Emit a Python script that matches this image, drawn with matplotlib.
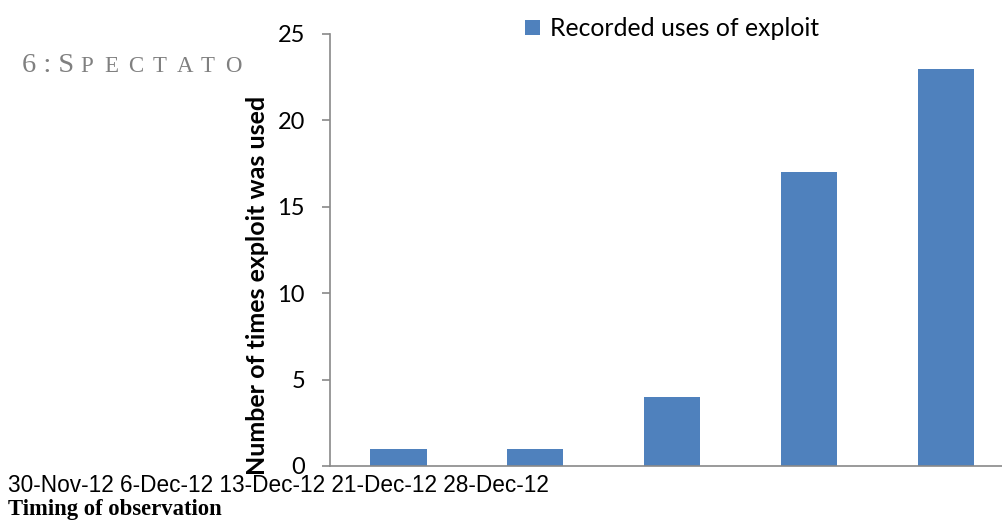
import matplotlib
matplotlib.use("Agg")
import matplotlib.pyplot as plt

# Observation dates and recorded counts
dates = ["30-Nov-12", "6-Dec-12", "13-Dec-12", "21-Dec-12", "28-Dec-12"]
uses = [1, 1, 4, 17, 23]
series_name = "Recorded uses of exploit"
y_ticks = [0, 5, 10, 15, 20, 25]
y_label = "Number of times exploit was used"
x_label = "Timing of observation"
header_big = "6 : S"
header_small = "PECTATO"

BAR = "#4F81BD"
SPINE = "#898989"
W, H = 1003, 523

fig = plt.figure(figsize=(W / 100, H / 100), dpi=100)
ax = fig.add_axes([330 / W, 1 - 466 / H, 684.5 / W, 432 / H])

positions = list(range(len(uses)))
bars = ax.bar(positions, uses, width=0.41, color=BAR, label=series_name, zorder=2)

ax.set_xlim(-0.5, len(uses) - 0.5)
ax.set_ylim(0, 25)
ax.set_yticks(y_ticks)
ax.set_xticks([])
for side in ("top", "right"):
    ax.spines[side].set_visible(False)
for side in ("left", "bottom"):
    ax.spines[side].set_color(SPINE)
    ax.spines[side].set_linewidth(1.2)
ax.tick_params(axis="y", length=6, width=1.2, color=SPINE, pad=12,
               labelsize=17, labelcolor="black")
for lab in ax.get_yticklabels():
    lab.set_fontfamily("Lato")

ax.set_ylabel(y_label, fontsize=18, fontweight="bold", family="Lato")
ax.yaxis.set_label_coords(-0.089, 0.417)

fig.legend(handles=[bars], labels=[series_name], loc="upper left",
           bbox_to_anchor=(513 / W, 1 - 5 / H), frameon=False,
           handlelength=0.58, handleheight=0.58, handletextpad=0.4,
           borderpad=0, prop={"family": "Lato", "size": 17.8})

# Date labels set as one line beneath the plot area
fig.text(8 / W, 1 - 486 / H, " ".join(dates), family="Liberation Sans",
         fontsize=16.3, va="center", ha="left")
fig.text(8 / W, 1 - 509 / H, x_label, family="Liberation Serif",
         fontweight="bold", fontsize=16.3, va="center", ha="left")

# Small-caps style header in the upper left corner
GRAY = "#808080"
fig.text(22 / W, 1 - 72 / H, header_big, family="Liberation Serif",
         fontsize=20.5, color=GRAY, va="baseline", ha="left")
for i, ch in enumerate(header_small):
    fig.text((80 + i * 24.2) / W, 1 - 72 / H, ch, family="Liberation Serif",
             fontsize=16.5, color=GRAY, va="baseline", ha="left")

fig.savefig("out.png", dpi=100)
